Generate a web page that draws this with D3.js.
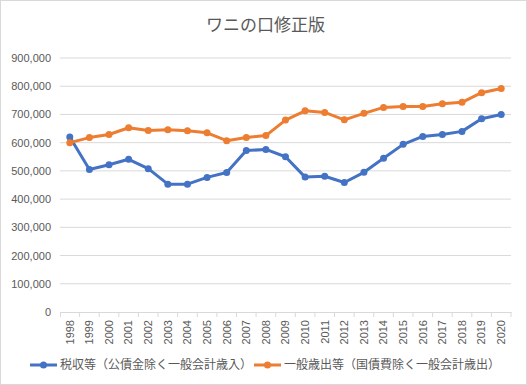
<!DOCTYPE html>
<html>
<head>
<meta charset="utf-8">
<script src="https://cdn.jsdelivr.net/npm/d3@7"></script>
<style>
  body { margin: 0; background: #fff; }
  svg { display: block; font-family: "Noto Sans CJK JP", "Liberation Sans", sans-serif; }
</style>
</head>
<body>
<div id="fig"></div>
<script>
const years = ["1998","1999","2000","2001","2002","2003","2004","2005","2006","2007","2008","2009",
  "2010","2011","2012","2013","2014","2015","2016","2017","2018","2019","2020"];

// 税収等（公債金除く一般会計歳入）
const revenue = [620000,505000,522000,541000,508000,453000,453000,477000,494000,572000,576000,550000,
  478000,481000,459000,495000,545000,594000,622000,629000,640000,685000,700000];

// 一般歳出等（国債費除く一般会計歳出）
const spending = [600000,618000,629000,653000,643000,646000,642000,635000,607000,618000,625000,680000,
  713000,707000,681000,704000,725000,728000,728000,738000,743000,777000,792000];

const yTicks = [0,100000,200000,300000,400000,500000,600000,700000,800000,900000];

const seriesNames = ["税収等（公債金除く一般会計歳入）", "一般歳出等（国債費除く一般会計歳出）"];
const colors = ["#4472c4", "#ed7d31"];

const W = 527, H = 385;
const margin = {top: 58, right: 16, bottom: 73, left: 60};
const width = W - margin.left - margin.right;
const height = H - margin.top - margin.bottom;

const svg = d3.select("#fig").append("svg")
    .attr("width", W)
    .attr("height", H);

// outer border
svg.append("rect")
    .attr("x", 0.5).attr("y", 0.5)
    .attr("width", W - 1).attr("height", H - 1)
    .attr("fill", "#fff")
    .attr("stroke", "#d9d9d9");

svg.append("text")
    .attr("x", W / 2 + 2)
    .attr("y", 31)
    .attr("text-anchor", "middle")
    .style("font-size", "17px")
    .style("fill", "#595959")
    .text("ワニの口修正版");

const g = svg.append("g")
    .attr("transform", "translate(" + margin.left + "," + margin.top + ")");

const xScale = d3.scaleBand().domain(years).range([0, width]);
const yScale = d3.scaleLinear().domain([0, 900000]).range([height, 0]);

// gridlines
g.selectAll(".grid")
    .data(yTicks.filter(d => d > 0))
    .enter().append("line")
    .attr("x1", 0).attr("x2", width)
    .attr("y1", d => yScale(d)).attr("y2", d => yScale(d))
    .attr("stroke", "#d9d9d9");

// y axis labels
const yAxis = g.append("g")
    .call(d3.axisLeft(yScale).tickValues(yTicks).tickSize(0).tickPadding(9).tickFormat(d3.format(",")));
yAxis.select(".domain").remove();
yAxis.selectAll("text")
    .style("font-family", "'Liberation Sans', sans-serif")
    .style("font-size", "11px")
    .attr("fill", "#595959");

// x axis
const xAxis = g.append("g")
    .attr("transform", "translate(0," + height + ")")
    .call(d3.axisBottom(xScale).tickSizeOuter(0).tickSizeInner(5));
xAxis.select(".domain").attr("stroke", "#d9d9d9");
xAxis.selectAll(".tick line")
    .attr("stroke", "#d9d9d9")
    .attr("transform", "translate(" + (xScale.bandwidth() / 2) + ",0)");
// add tick at the left edge too
xAxis.append("line")
    .attr("x1", 0.5).attr("x2", 0.5).attr("y1", 0).attr("y2", 5)
    .attr("stroke", "#d9d9d9");
xAxis.selectAll(".tick text")
    .style("font-family", "'Liberation Sans', sans-serif")
    .style("font-size", "11px")
    .attr("fill", "#595959")
    .attr("transform", "rotate(-90)")
    .attr("text-anchor", "end")
    .attr("x", -8)
    .attr("y", 0)
    .attr("dy", "0.35em");

const line = d3.line()
    .x((d, i) => xScale(years[i]) + xScale.bandwidth() / 2)
    .y(d => yScale(d));

[revenue, spending].forEach((vals, k) => {
    g.append("path")
        .datum(vals)
        .attr("fill", "none")
        .attr("stroke", colors[k])
        .attr("stroke-width", 3)
        .attr("stroke-linejoin", "round")
        .attr("d", line);

    g.selectAll(".dot" + k)
        .data(vals)
        .enter().append("circle")
        .attr("cx", (d, i) => xScale(years[i]) + xScale.bandwidth() / 2)
        .attr("cy", d => yScale(d))
        .attr("r", 3.5)
        .attr("fill", colors[k]);
});

// legend
const legend = svg.append("g").attr("transform", "translate(0,365)");
const legendX = [30, 254];
seriesNames.forEach((name, k) => {
    const lg = legend.append("g").attr("transform", "translate(" + legendX[k] + ",0)");
    lg.append("line")
        .attr("x1", 0).attr("x2", 27).attr("y1", 0).attr("y2", 0)
        .attr("stroke", colors[k]).attr("stroke-width", 3);
    lg.append("circle").attr("cx", 13.5).attr("cy", 0).attr("r", 3.5).attr("fill", colors[k]);
    lg.append("text")
        .attr("x", 30).attr("y", 0).attr("dy", "0.35em")
        .style("font-size", "12px")
        .attr("fill", "#595959")
        .text(name);
});
</script>
</body>
</html>
